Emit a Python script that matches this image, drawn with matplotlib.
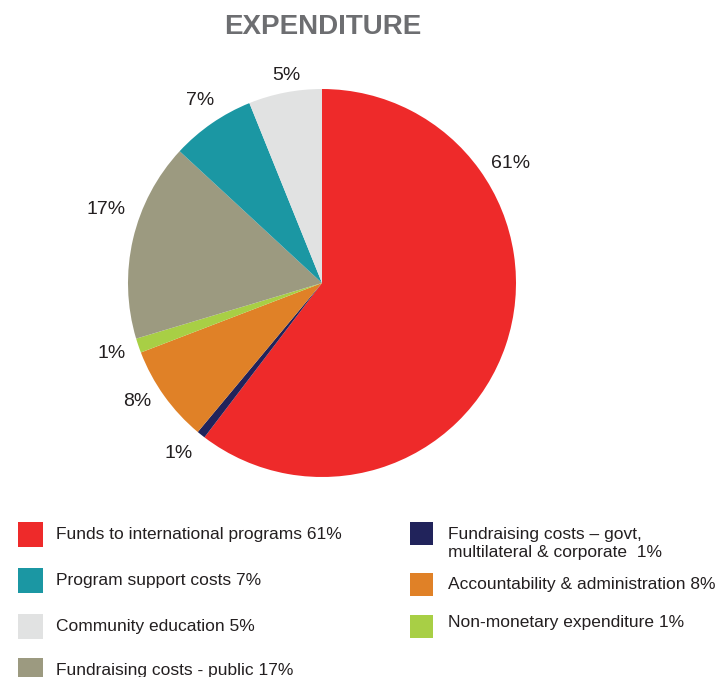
import matplotlib.pyplot as plt
from matplotlib.patches import Rectangle
import numpy as np

plt.rcParams['font.family'] = ['Liberation Sans', 'DejaVu Sans']

W, H = 723, 677

# slices, clockwise from 12 o'clock (sizes)
values = [60.3, 0.7, 8.1, 1.2, 16.5, 7.0, 6.1]
pct_labels = ['61%', '1%', '8%', '1%', '17%', '7%', '5%']
colors = ['#EE2A2A', '#21235B', '#E08127', '#A8CF45', '#9C9A80', '#1B97A3', '#E1E2E2']

# legend entries (left column then right column)
legend_left = ['Funds to international programs 61%', 'Program support costs 7%',
               'Community education 5%', 'Fundraising costs - public 17%']
legend_left_colors = ['#EE2A2A', '#1B97A3', '#E1E2E2', '#9C9A80']
legend_right = ['Fundraising costs \u2013 govt,\nmultilateral & corporate  1%',
                'Accountability & administration 8%', 'Non-monetary expenditure 1%']
legend_right_colors = ['#21235B', '#E08127', '#A8CF45']

fig = plt.figure(figsize=(W / 100, H / 100), dpi=100)
ax = fig.add_axes([0, 0, 1, 1])

cx, cy, r = 322, H - 283, 194
wedges, _ = ax.pie(values, colors=colors, startangle=90, counterclock=False,
                   center=(cx, cy), radius=r, wedgeprops=dict(linewidth=0))

# label placement tweaks (degrees off the slice middle, distance in radii)
angle_shift = [51.6, -1.9, -3.6, -1.0, -6.4, -1.2, -1.4]
label_dist = [1.16, 1.14, 1.125, 1.14, 1.18, 1.14, 1.10]
for i, w in enumerate(wedges):
    ang = np.radians((w.theta1 + w.theta2) / 2 + angle_shift[i])
    d = r * label_dist[i]
    ax.text(cx + d * np.cos(ang), cy + d * np.sin(ang) - 2.5, pct_labels[i],
            ha='center', va='center', fontsize=14, color='#231F20')

ax.set_xlim(0, W)
ax.set_ylim(0, H)
ax.set_aspect('equal')
ax.axis('off')

ax.text(323, H - 27, 'EXPENDITURE', ha='center', va='center', fontsize=20,
        fontweight='bold', color='#6D6E71')

# legend, left column
left_y = [534, 580, 626, 670]
for y, lab, c in zip(left_y, legend_left, legend_left_colors):
    ax.add_patch(Rectangle((18, H - y - 12.5), 25, 25, color=c, lw=0))
    ax.text(56, H - y, lab, ha='left', va='center', fontsize=12.5, color='#231F20')

# legend, right column
right_y = [533, 584, 626]
right_text_y = [543, 585, 622]
for y, ty, lab, c in zip(right_y, right_text_y, legend_right, legend_right_colors):
    ax.add_patch(Rectangle((410, H - y - 12), 23, 23, color=c, lw=0))
    ax.text(448, H - ty, lab, ha='left', va='center', fontsize=12.5, color='#231F20',
            linespacing=1.25)

fig.savefig('out.png', dpi=100)
